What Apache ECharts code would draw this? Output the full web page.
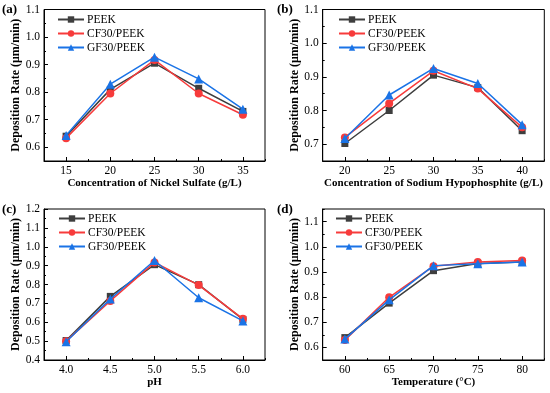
<!DOCTYPE html>
<html><head><meta charset="utf-8">
<script src="https://cdn.jsdelivr.net/npm/echarts@6/dist/echarts.min.js"></script>
<style>html,body{margin:0;padding:0;background:#fff}#c{width:550px;height:393px}</style>
</head><body><div id="c"></div>
<script>
// ---- data ----
const seriesNames = ['PEEK', 'CF30/PEEK', 'GF30/PEEK'];

const xA = [15, 20, 25, 30, 35];
const peekA = [0.640, 0.810, 0.905, 0.814, 0.730];
const cfA   = [0.633, 0.795, 0.917, 0.795, 0.718];
const gfA   = [0.643, 0.829, 0.927, 0.848, 0.738];
const yTicksA = [0.6, 0.7, 0.8, 0.9, 1.0, 1.1];

const xB = [20, 25, 30, 35, 40];
const peekB = [0.702, 0.800, 0.905, 0.868, 0.740];
const cfB   = [0.720, 0.821, 0.918, 0.865, 0.750];
const gfB   = [0.717, 0.846, 0.925, 0.880, 0.758];
const yTicksB = [0.7, 0.8, 0.9, 1.0, 1.1];

const xC = [4.0, 4.5, 5.0, 5.5, 6.0];
const peekC = [0.503, 0.737, 0.905, 0.799, 0.615];
const cfC   = [0.500, 0.713, 0.917, 0.797, 0.618];
const gfC   = [0.497, 0.723, 0.927, 0.730, 0.607];
const yTicksC = [0.4, 0.5, 0.6, 0.7, 0.8, 0.9, 1.0, 1.1, 1.2];

const xD = [60, 65, 70, 75, 80];
const peekD = [0.639, 0.776, 0.905, 0.933, 0.939];
const cfD   = [0.629, 0.799, 0.923, 0.939, 0.945];
const gfD   = [0.633, 0.789, 0.925, 0.932, 0.939];
const yTicksD = [0.6, 0.7, 0.8, 0.9, 1.0, 1.1];

const panelLabels = ['(a)', '(b)', '(c)', '(d)'];
const xNames = ['Concentration of Nickel Sulfate (g/L)', 'Concentration of Sodium Hypophosphite (g/L)', 'pH', 'Temperature (°C)'];
const yName = 'Deposition Rate (μm/min)';

// ---- layout ----
const FONT = '"Liberation Serif", "Times New Roman", serif';
const colors = ['#3e3e3e', '#f73b3b', '#1a73e6'];
const symbols = ['rect', 'circle', 'triangle'];
const symSizes = [7, 8, 9];

const panels = [
  {x: xA, vals: [peekA, cfA, gfA], yTicks: yTicksA, xMin: 12.5, xMax: 37.5, xStep: 2.5, yMin: 0.55, yMax: 1.1, yStep: 0.05, xDec: 0,
   grid: {left: 44, right: 285, top: 9.5, bottom: 232}, legend: {left: 57, top: 13.5}, lab: {left: 2, top: 3}},
  {x: xB, vals: [peekB, cfB, gfB], yTicks: yTicksB, xMin: 17.5, xMax: 42.5, xStep: 2.5, yMin: 0.65, yMax: 1.1, yStep: 0.05, xDec: 0,
   grid: {left: 322.7, right: 5.7, top: 9.5, bottom: 232}, legend: {left: 338, top: 13.5}, lab: {left: 277, top: 3}},
  {x: xC, vals: [peekC, cfC, gfC], yTicks: yTicksC, xMin: 3.75, xMax: 6.25, xStep: 0.25, yMin: 0.4, yMax: 1.2, yStep: 0.05, xDec: 1,
   grid: {left: 44, right: 285, top: 209, bottom: 33}, legend: {left: 58, top: 212.5}, lab: {left: 2, top: 203}},
  {x: xD, vals: [peekD, cfD, gfD], yTicks: yTicksD, xMin: 57.5, xMax: 82.5, xStep: 2.5, yMin: 0.55, yMax: 1.15, yStep: 0.05, xDec: 0,
   grid: {left: 322.7, right: 5.7, top: 209, bottom: 33}, legend: {left: 335, top: 212.5}, lab: {left: 277, top: 203}}
];

const option = {animation: false, backgroundColor: '#fff', title: [], grid: [], xAxis: [], yAxis: [], legend: [], series: []};

panels.forEach((p, i) => {
  option.title.push({text: panelLabels[i], left: p.lab.left, top: p.lab.top, padding: 0,
    textStyle: {fontFamily: FONT, fontSize: 13, fontWeight: 'bold', color: '#000'}});
  option.grid.push(Object.assign({show: true, borderColor: '#000', borderWidth: 1, backgroundColor: 'transparent'}, p.grid));
  const labStyle = {color: '#000', fontFamily: FONT, fontSize: 11.5};
  option.xAxis.push({type: 'value', gridIndex: i, position: 'bottom', min: p.xMin, max: p.xMax,
    axisLine: {show: true, onZero: false, lineStyle: {color: '#000', width: 1}},
    axisTick: {show: true, inside: true, length: 4, customValues: p.x, lineStyle: {color: '#000'}},
    axisLabel: Object.assign({customValues: p.x, margin: 4, formatter: v => Number(v).toFixed(p.xDec)}, labStyle),
    splitLine: {show: false},
    name: xNames[i], nameLocation: 'middle', nameGap: 15,
    nameTextStyle: {fontFamily: FONT, fontSize: 11, fontWeight: 'bold', color: '#000'}});
  option.yAxis.push({type: 'value', gridIndex: i, position: 'left', min: p.yMin, max: p.yMax,
    axisLine: {show: true, onZero: false, lineStyle: {color: '#000', width: 1}},
    axisTick: {show: true, inside: true, length: 4, customValues: p.yTicks, lineStyle: {color: '#000'}},
    axisLabel: Object.assign({customValues: p.yTicks, margin: 4, formatter: v => Number(v).toFixed(1)}, labStyle),
    splitLine: {show: false},
    name: yName, nameLocation: 'middle', nameGap: 20,
    nameTextStyle: {fontFamily: FONT, fontSize: 12, fontWeight: 'bold', color: '#000'}});
  option.xAxis.push({type: 'value', gridIndex: i, position: 'bottom', offset: 0, min: p.xMin, max: p.xMax, interval: p.xStep,
    axisLine: {show: false, onZero: false}, axisTick: {show: true, inside: true, length: 2, lineStyle: {color: '#000'}},
    axisLabel: {show: false}, splitLine: {show: false}});
  option.yAxis.push({type: 'value', gridIndex: i, position: 'left', offset: 0, min: p.yMin, max: p.yMax, interval: p.yStep,
    axisLine: {show: false, onZero: false}, axisTick: {show: true, inside: true, length: 2, lineStyle: {color: '#000'}},
    axisLabel: {show: false}, splitLine: {show: false}});
  option.legend.push({left: p.legend.left, top: p.legend.top, orient: 'vertical', padding: 0,
    itemWidth: 26, itemHeight: 8, itemGap: 2, selectedMode: false, data: seriesNames,
    textStyle: {fontFamily: FONT, fontSize: 11.5, color: '#000', lineHeight: 12, padding: [0, 0, 0, -2]}});
  seriesNames.forEach((nm, k) => {
    option.series.push({type: 'line', name: nm, xAxisIndex: 2 * i, yAxisIndex: 2 * i,
      data: p.x.map((xv, j) => [xv, p.vals[k][j]]),
      symbol: symbols[k], symbolSize: symSizes[k], showSymbol: true,
      itemStyle: {color: colors[k]}, lineStyle: {color: colors[k], width: 1.5}, z: 2 + k});
  });
});

const chart = echarts.init(document.getElementById('c'), null, {renderer: 'canvas'});
chart.setOption(option);
</script>
</body></html>
